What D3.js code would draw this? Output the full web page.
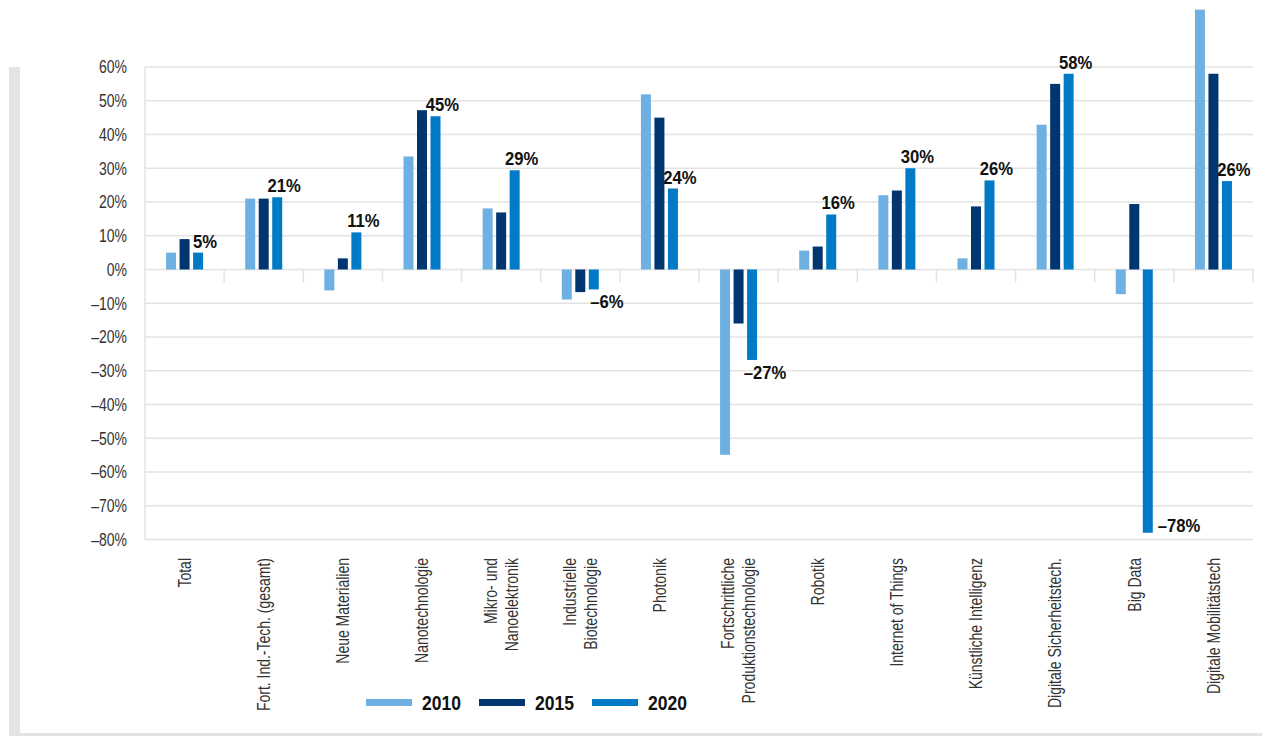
<!DOCTYPE html>
<html>
<head>
<meta charset="utf-8">
<script src="https://cdn.jsdelivr.net/npm/d3@7"></script>
<style>
  body { margin: 0; background: #fff; }
  svg text { font-family: "Liberation Sans", Arial, sans-serif; }
</style>
</head>
<body>
<div id="chart"></div>
<script>
'use strict';

// categories (multi-line labels as arrays)
const categories = [
    ['Total'], ['Fort. Ind.-Tech. (gesamt)'], ['Neue Materialien'], ['Nanotechnologie'],
    ['Mikro- und', 'Nanoelektronik'], ['Industrielle', 'Biotechnologie'], ['Photonik'],
    ['Fortschrittliche', 'Produktionstechnologie'], ['Robotik'], ['Internet of Things'],
    ['Künstliche Intelligenz'], ['Digitale Sicherheitstech.'], ['Big Data'], ['Digitale Mobilitätstech']
];
const series = ['2010', '2015', '2020'];
const values2010 = [5, 21, -6.2, 33.5, 18.1, -8.9, 51.9, -54.9, 5.6, 22, 3.3, 42.9, -7.3, 77];
const values2015 = [9, 21, 3.3, 47.2, 16.9, -6.7, 45, -16, 6.8, 23.4, 18.7, 55, 19.4, 58];
const values2020 = [5, 21.4, 11, 45.4, 29.4, -5.9, 24, -26.8, 16.3, 30, 26.4, 58, -78, 26.2];
const yTicks = [60, 50, 40, 30, 20, 10, 0, -10, -20, -30, -40, -50, -60, -70, -80];

const colors = ['#6eb0e2', '#00366f', '#007ac7'];
const seriesValues = [values2010, values2015, values2020];

const width = 1268, height = 736;
const margin = {top: 67, right: 15, left: 145};
const plotBottom = 539.5;
const narrow = 'scale(0.8,1)';      // condensed look
const narrowBold = 'scale(0.9,1)';

const svg = d3.select('#chart').append('svg')
    .attr('width', width)
    .attr('height', height);

// grey frame (left and bottom)
svg.append('rect').attr('x', 9).attr('y', 67).attr('width', 11).attr('height', height - 67).attr('fill', '#e4e4e4');
svg.append('rect').attr('x', 9).attr('y', 733).attr('width', 1253).attr('height', 3).attr('fill', '#e4e4e4');

const x0 = d3.scaleBand()
    .domain(categories.map((d, i) => i))
    .range([margin.left, width - margin.right])
    .paddingInner(0)
    .paddingOuter(0);

const x1 = d3.scaleBand()
    .domain(series)
    .range([0, 37])
    .paddingInner(0.26);

const y = d3.scaleLinear()
    .domain([-80, 60])
    .range([plotBottom, margin.top]);

const fmt = v => (v < 0 ? '\u2013' : '') + Math.abs(Math.round(v)) + '%';

// gridlines
svg.append('g')
    .selectAll('line')
    .data(yTicks)
    .enter()
    .append('line')
    .attr('x1', margin.left)
    .attr('x2', width - margin.right)
    .attr('y1', d => y(d))
    .attr('y2', d => y(d))
    .attr('stroke', '#e3e3e3')
    .attr('stroke-width', 1.5);

// left axis line
svg.append('line')
    .attr('x1', margin.left).attr('x2', margin.left)
    .attr('y1', y(60)).attr('y2', y(-80))
    .attr('stroke', '#e3e3e3')
    .attr('stroke-width', 1.5);

// y tick labels
svg.append('g')
    .selectAll('text')
    .data(yTicks)
    .enter()
    .append('text')
    .attr('transform', d => 'translate(' + (margin.left - 18) + ',' + y(d) + ') ' + narrow)
    .attr('dy', '0.36em')
    .attr('text-anchor', 'end')
    .attr('font-size', 17.5)
    .attr('fill', '#333')
    .text(d => fmt(d));

// category tick marks on zero line
const bounds = categories.map((d, i) => x0(i)).concat([width - margin.right]);
svg.append('g')
    .selectAll('line')
    .data(bounds.slice(1))
    .enter()
    .append('line')
    .attr('x1', d => d).attr('x2', d => d)
    .attr('y1', y(0)).attr('y2', y(0) + 13)
    .attr('stroke', '#e3e3e3')
    .attr('stroke-width', 1.5);

// bars
const groups = svg.append('g')
    .selectAll('g')
    .data(categories.map((c, i) => i))
    .enter()
    .append('g')
    .attr('transform', i => 'translate(' + (x0(i) + x0.bandwidth() / 2 - 18.5) + ',0)');

groups.selectAll('rect')
    .data(i => series.map((s, k) => ({s: s, k: k, v: seriesValues[k][i]})))
    .enter()
    .append('rect')
    .attr('x', d => x1(d.s))
    .attr('width', x1.bandwidth())
    .attr('y', d => y(Math.max(0, d.v)))
    .attr('height', d => Math.abs(y(d.v) - y(0)))
    .attr('fill', d => colors[d.k]);

// value labels for 2020
svg.append('g')
    .selectAll('text')
    .data(values2020)
    .enter()
    .append('text')
    .attr('font-size', 18.5)
    .attr('font-weight', 'bold')
    .attr('fill', '#111')
    .each(function(v, i) {
        const bx = x0(i) + x0.bandwidth() / 2 - 18.5 + x1('2020');
        const t = d3.select(this);
        let px, py, anchor = 'middle';
        if (v >= 0) {
            px = bx + x1.bandwidth() / 2 + 7; py = y(v) - 5;
        } else if (y(v) + 22 > plotBottom) {
            px = bx + x1.bandwidth() + 5; py = y(v) - 1; anchor = 'start';
        } else {
            px = bx + x1.bandwidth() / 2 + 13; py = y(v) + 19;
        }
        t.attr('transform', 'translate(' + px + ',' + py + ') ' + narrowBold)
            .attr('text-anchor', anchor);
    })
    .text(v => fmt(v));

// category labels (rotated)
const catLabels = svg.append('g')
    .selectAll('text')
    .data(categories)
    .enter()
    .append('text')
    .attr('font-size', 17.5)
    .attr('fill', '#333')
    .attr('text-anchor', 'end')
    .attr('transform', (d, i) => 'translate(' + (x0(i) + x0.bandwidth() / 2) + ',558) rotate(-90) ' + narrow);

catLabels.selectAll('tspan')
    .data(d => d)
    .enter()
    .append('tspan')
    .attr('x', 0)
    .attr('y', (l, j, nodes) => (j - (nodes.length - 1) / 2) * 21)
    .attr('dy', '0.36em')
    .text(l => l);

// legend
const legend = svg.append('g')
    .selectAll('g')
    .data(series)
    .enter()
    .append('g')
    .attr('transform', (d, i) => 'translate(' + (366 + i * 113) + ',699)');

legend.append('rect')
    .attr('width', 46)
    .attr('height', 7)
    .attr('fill', (d, i) => colors[i]);

legend.append('text')
    .attr('transform', 'translate(56,11) ' + narrowBold)
    .attr('font-size', 19.5)
    .attr('font-weight', 'bold')
    .attr('fill', '#111')
    .text(d => d);
</script>
</body>
</html>
